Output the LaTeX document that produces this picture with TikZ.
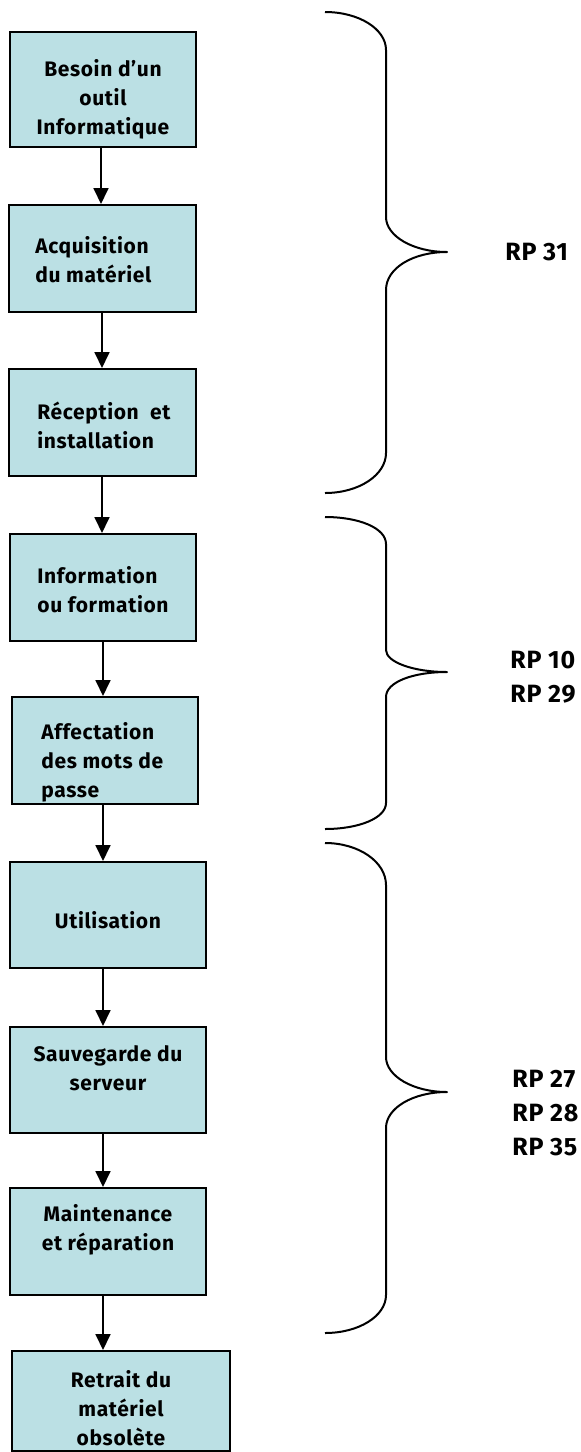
\documentclass[tikz,border=0pt]{standalone}
\usepackage{fontspec}
\setmainfont{Fira Sans}[LetterSpace=3]
\usetikzlibrary{arrows.meta}
\definecolor{boxfill}{RGB}{187,224,228}
\tikzset{
  stage/.style n args={2}{draw=black, fill=boxfill, line width=1pt,
    minimum width=#1*0.5pt, minimum height=#2*0.5pt, inner sep=0pt},
  label/.style={inner sep=0pt, font=\bfseries\fontsize{10.5}{14.5}\selectfont},
  rplabel/.style={inner sep=0pt, align=left, anchor=west,
    font=\bfseries\fontsize{12.5}{17}\selectfont},
  flow/.style={line width=0.9pt, -{Triangle[width=7.5pt,length=8pt]}},
  brace/.style={line width=1pt, line join=round}
}
\begin{document}
\begin{tikzpicture}[x=0.5pt, y=-0.5pt]
\useasboundingbox (0,0) rectangle (581,1452);

% process boxes
\node[stage={186}{115}] (b1) at (103,89.5) {};
\node[stage={187}{107}] (b2) at (102.5,258.5) {};
\node[stage={187}{107}] (b3) at (102.5,422.5) {};
\node[stage={186}{107}] (b4) at (103,587.5) {};
\node[stage={186}{107}] (b5) at (105,750.5) {};
\node[stage={196}{106}] (b6) at (108,915) {};
\node[stage={196}{106}] (b7) at (108,1080) {};
\node[stage={196}{107}] (b8) at (108,1241.5) {};
\node[stage={218}{100}] (b9) at (121,1401) {};

% box texts
\node[label, align=center] (t1) at (103,99) {Besoin d’un\\outil\\Informatique};
\node[label, align=left, anchor=west] (t2) at (35,260) {Acquisition\\du matériel};
\node[label, align=left, anchor=west] (t3) at (37,425) {Réception~ et\\installation};
\node[label, align=left, anchor=west] (t4) at (37,590) {Information\\ou formation};
\node[label, align=left, anchor=west] (t5) at (41,762) {Affectation\\des mots de\\passe};
\node[label, align=center] (t6) at (108,920) {Utilisation};
\node[label, align=center] (t7) at (108,1068) {Sauvegarde du\\serveur};
\node[label, align=center] (t8) at (108,1230) {Maintenance\\et réparation};
\node[label, align=center] (t9) at (121,1408) {Retrait du\\matériel\\obsolète};

% flow arrows
\draw[flow] (b1.south -| 101,0) -- (b2.north -| 101,0);
\draw[flow] (b2.south -| 102,0) -- (b3.north -| 102,0);
\draw[flow] (b3.south -| 102,0) -- (b4.north -| 102,0);
\draw[flow] (b4.south -| 103,0) -- (b5.north -| 103,0);
\draw[flow] (b5.south -| 103,0) -- (b6.north -| 103,0);
\draw[flow] (b6.south -| 103,0) -- (b7.north -| 103,0);
\draw[flow] (b7.south -| 103,0) -- (b8.north -| 103,0);
\draw[flow] (b8.south -| 103,0) -- (b9.north -| 103,0);

% braces grouping the stages
\draw[brace] (325,12) .. controls (359,12) and (386,29) .. (386,50)
  -- (386,217) .. controls (386,236) and (413,252) .. (447,252)
  .. controls (413,252) and (386,268) .. (386,290)
  -- (386,453) .. controls (386,475) and (359,493) .. (325,493);
\draw[brace] (325,517) .. controls (359,517) and (386,528) .. (386,544)
  -- (386,650) .. controls (386,662) and (413,672) .. (447,672)
  .. controls (413,672) and (386,682) .. (386,697)
  -- (386,803) .. controls (386,818) and (359,829) .. (325,829);
\draw[brace] (325,843) .. controls (359,843) and (386,862) .. (386,885)
  -- (386,1057) .. controls (386,1076) and (413,1092) .. (447,1092)
  .. controls (413,1092) and (386,1108) .. (386,1128)
  -- (386,1295) .. controls (386,1316) and (359,1333) .. (325,1333);

% rule references
\node[rplabel] (r1) at (505,252) {RP 31};
\node[rplabel] (r2) at (510,677) {RP 10\\RP 29};
\node[rplabel] (r3) at (512,1113) {RP 27\\RP 28\\RP 35};
\end{tikzpicture}
\end{document}
